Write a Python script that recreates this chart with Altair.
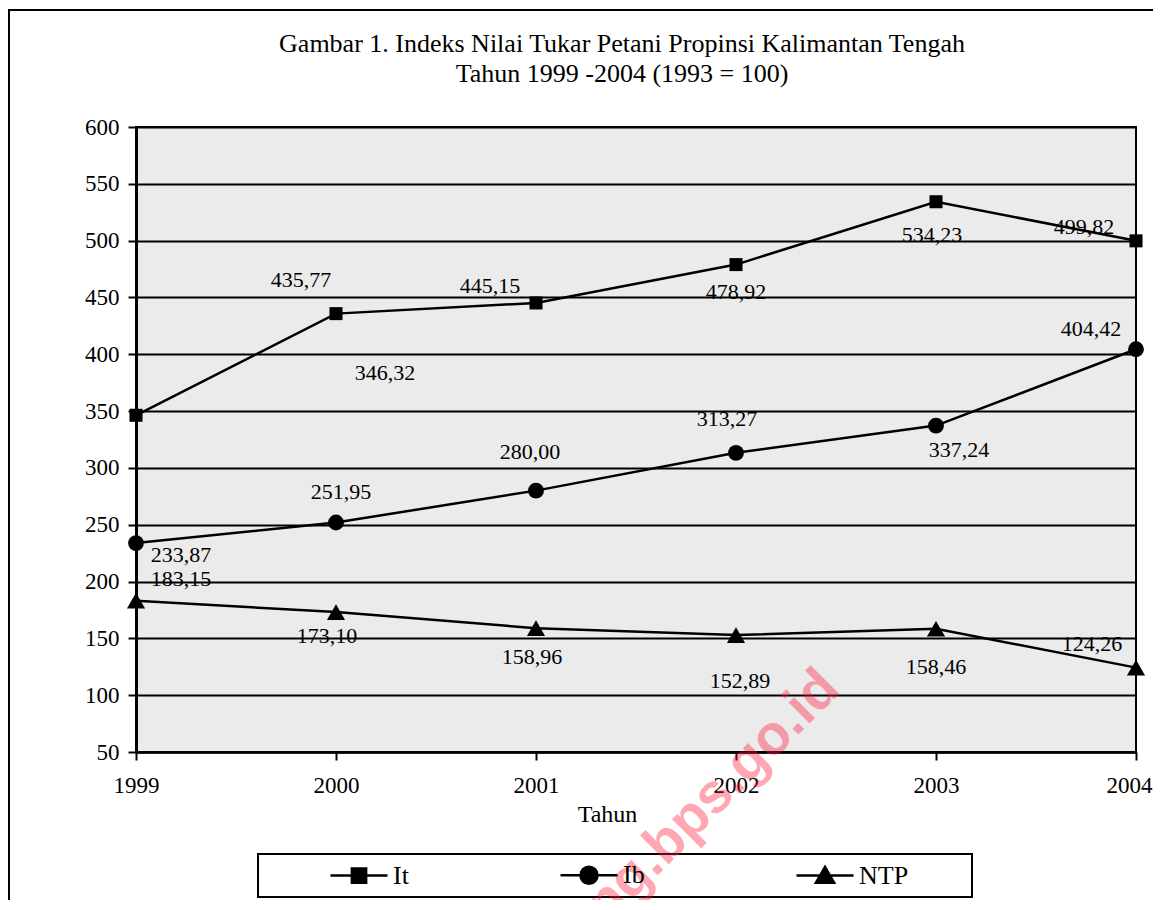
import altair as alt
import pandas as pd

# ---- data ----
years = [1999, 2000, 2001, 2002, 2003, 2004]
series_names = ["It", "Ib", "NTP"]
it_vals = [346.32, 435.77, 445.15, 478.92, 534.23, 499.82]
ib_vals = [233.87, 251.95, 280.00, 313.27, 337.24, 404.42]
ntp_vals = [183.15, 173.10, 158.96, 152.89, 158.46, 124.26]
y_ticks = [50, 100, 150, 200, 250, 300, 350, 400, 450, 500, 550, 600]
title_lines = ["Gambar 1. Indeks Nilai Tukar Petani Propinsi Kalimantan Tengah",
               "Tahun 1999 -2004 (1993 = 100)"]

# label placement offsets (pixels, label centre relative to point)
it_dx = [249, -35, -46, 0, -4, -52]
it_dy = [-42, -34, -17, 27, 33, -14]
ib_dx = [45, 5, -6, -9, 23, -45]
ib_dy = [12, -31, -39, -34, 24, -20]
ntp_dx = [45, -9, -4, 4, 0, -44]
ntp_dy = [-22, 24, 29, 46, 38, -24]

W, H = 1000, 625
PX_YEAR = W / (years[-1] - years[0])
PX_UNIT = H / (y_ticks[-1] - y_ticks[0])

rows = []
for name, vals, dxs, dys in [("It", it_vals, it_dx, it_dy),
                             ("Ib", ib_vals, ib_dx, ib_dy),
                             ("NTP", ntp_vals, ntp_dx, ntp_dy)]:
    for yr, v, dx, dy in zip(years, vals, dxs, dys):
        rows.append({"series": name, "year": yr, "value": v,
                     "label": f"{v:.2f}".replace(".", ","),
                     "lx": yr + dx / PX_YEAR, "ly": v - dy / PX_UNIT})
df = pd.DataFrame(rows)

SERIF = "Liberation Serif"

x_axis = alt.Axis(values=years, format="d", title="Tahun", grid=False,
                  labelFontSize=23, labelPadding=14, labelFlush=False, labelOverlap=False,
                  labelOffset={"condition": {"test": f"datum.value == {years[-1]}", "value": -7},
                               "value": 0},
                  tickSize=8, tickWidth=2,
                  domainWidth=2.5, titleFontSize=24, titleFontWeight="normal",
                  titleX=471, titleY=62, titleBaseline="middle", titleAlign="center")
y_axis = alt.Axis(values=y_ticks, title=None, grid=True, gridColor="black",
                  gridWidth=2, gridOpacity=1, labelFontSize=23, labelPadding=9,
                  labelFlush=False, labelOverlap=False,
                  tickSize=8, tickWidth=2, domainWidth=3)
x_scale = alt.Scale(domain=[years[0], years[-1]], nice=False, zero=False)
y_scale = alt.Scale(domain=[y_ticks[0], y_ticks[-1]], nice=False, zero=False)

base = alt.Chart(df)
one = pd.DataFrame({"k": [0]})

frame = alt.Chart(one).mark_rect(
    fill="transparent", stroke="black", strokeWidth=2
).encode(x=alt.value(-127), x2=alt.value(1100), y=alt.value(-117), y2=alt.value(900))

title = alt.Chart(one).mark_text(
    font=SERIF, fontSize=26, color="black", align="center", baseline="alphabetic",
    lineHeight=30
).encode(x=alt.value(486), y=alt.value(-75), text=alt.value(title_lines))

legend_box = alt.Chart(one).mark_rect(
    fill="white", stroke="black", strokeWidth=2
).encode(x=alt.value(122), x2=alt.value(836), y=alt.value(727), y2=alt.value(770))

lines = base.mark_line(color="black", strokeWidth=2.5).encode(
    x=alt.X("year:Q", scale=x_scale, axis=x_axis),
    y=alt.Y("value:Q", scale=y_scale, axis=y_axis),
    detail="series:N",
)

points = base.mark_point(filled=True, color="black", opacity=1).encode(
    x=alt.X("year:Q", scale=x_scale, axis=x_axis),
    y=alt.Y("value:Q", scale=y_scale, axis=y_axis),
    shape=alt.Shape("series:N", scale=alt.Scale(domain=series_names,
                    range=["square", "circle", "triangle-up"]), legend=None),
    size=alt.Size("series:N", scale=alt.Scale(domain=series_names,
                  range=[170, 330, 260]), legend=None),
)

labels = base.mark_text(font=SERIF, fontSize=22, color="black",
                        align="center", baseline="middle").encode(
    x=alt.X("lx:Q", scale=x_scale, axis=x_axis),
    y=alt.Y("ly:Q", scale=y_scale, axis=y_axis),
    text="label:N",
)

legend_paths = [
    "M-1,0L1,0M-0.25,-0.25L0.25,-0.25L0.25,0.25L-0.25,0.25Z",
    "M-1,0L1,0M0.3,0A0.3,0.3,0,1,1,-0.3,0A0.3,0.3,0,1,1,0.3,0Z",
    "M-1,0L1,0M0,-0.3L0.32,0.25L-0.32,0.25Z",
]
leg = alt.Legend(title=None, orient="none", legendX=193, legendY=718,
                 direction="horizontal", columns=3, columnPadding=146,
                 symbolSize=3249, symbolFillColor="black",
                 symbolStrokeColor="black", symbolStrokeWidth=2.5,
                 symbolOpacity=1, labelFont=SERIF, labelFontSize=26,
                 labelColor="black", labelOffset=4, padding=0)
legend_layer = base.transform_filter("false").mark_point(
    filled=True, strokeWidth=2.5, opacity=1
).encode(
    x=alt.X("year:Q", scale=x_scale, axis=x_axis),
    y=alt.Y("value:Q", scale=y_scale, axis=y_axis),
    shape=alt.Shape("series:N", scale=alt.Scale(domain=series_names, range=legend_paths),
                    legend=leg),
    fill=alt.Fill("series:N", scale=alt.Scale(domain=series_names,
                  range=["black", "black", "black"]), legend=leg),
    stroke=alt.Stroke("series:N", scale=alt.Scale(domain=series_names,
                      range=["black", "black", "black"]), legend=leg),
)

watermark = alt.Chart(one).mark_text(
    font="Liberation Sans", fontWeight="bold", fontSize=56, color="#ff1a3a",
    opacity=0.38, angle=315, align="right", baseline="middle"
).encode(x=alt.value(694), y=alt.value(552), text=alt.value("kalteng.bps.go.id"))

chart = alt.layer(frame, title, legend_box, lines, points, labels, watermark,
                  legend_layer).resolve_scale(
    shape="independent", size="independent", fill="independent", stroke="independent"
).properties(
    width=W, height=H,
    autosize=alt.AutoSizeParams(type="none"),
    padding={"left": 128, "top": 119, "right": 17, "bottom": 148},
).configure_view(
    fill="#ebebeb", stroke="black", strokeWidth=2
).configure_axis(
    domainColor="black", tickColor="black", labelColor="black", titleColor="black",
    labelFont=SERIF, titleFont=SERIF
)

chart.save("out.html", embed_options={"renderer": "svg", "actions": False})
